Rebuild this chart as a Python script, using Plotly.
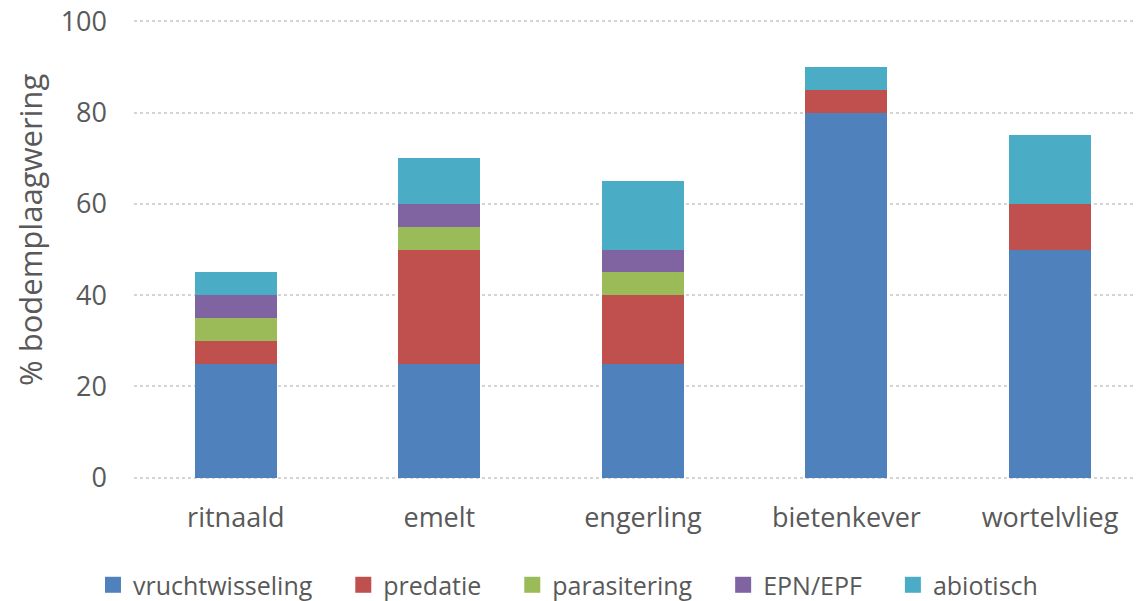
import plotly.graph_objects as go

categories = ["ritnaald", "emelt", "engerling", "bietenkever", "wortelvlieg"]
series_names = ["vruchtwisseling", "predatie", "parasitering", "EPN/EPF", "abiotisch"]
vruchtwisseling = [25, 25, 25, 80, 50]
predatie = [5, 25, 15, 5, 10]
parasitering = [5, 5, 5, 0, 0]
epn_epf = [5, 5, 5, 0, 0]
abiotisch = [5, 10, 15, 5, 15]
y_ticks = [0, 20, 40, 60, 80, 100]
y_title = "% bodemplaagwering"

colors = ["#4F81BD", "#C0504D", "#9BBB59", "#8064A2", "#4BACC6"]
values = [vruchtwisseling, predatie, parasitering, epn_epf, abiotisch]

FONT = "Open Sans"
GREY = "#595959"
PAD = "\u00a0\u00a0\u00a0\u00a0"

fig = go.Figure()
for name, vals, col in zip(series_names, values, colors):
    fig.add_trace(go.Bar(
        x=categories, y=vals, name=name, showlegend=False,
        marker=dict(color=col, line=dict(width=0)),
        width=0.403,
    ))
# legend entries (square swatches)
for name, col in zip(series_names, colors):
    fig.add_trace(go.Scatter(
        x=[None], y=[None], name=name + PAD, mode="markers",
        marker=dict(symbol="square", size=16, color=col),
    ))

fig.add_annotation(
    text=y_title, textangle=-90, xref="paper", yref="paper",
    x=0, y=0.5425, xanchor="center", yanchor="middle", xshift=-104,
    showarrow=False, font=dict(family=FONT, size=31, color=GREY),
)

fig.update_layout(
    barmode="stack",
    width=1143, height=601,
    margin=dict(l=126, r=0, t=12, b=130),
    paper_bgcolor="white", plot_bgcolor="white",
    font=dict(family=FONT, size=24, color=GREY),
    legend=dict(orientation="h", x=0.4395, xanchor="center", y=-0.231, yanchor="middle",
                font=dict(family=FONT, size=25, color=GREY), traceorder="normal",
                itemwidth=30),
    xaxis=dict(range=[-0.5, 4.496], showgrid=False, showline=False, ticks="",
               automargin=False,
               tickfont=dict(family=FONT, size=27, color=GREY), ticklabelstandoff=20),
    yaxis=dict(range=[-0.3, 100.3], tickvals=y_ticks, showgrid=True, gridcolor="#D4D4D4",
               gridwidth=1.5, griddash="dot", zeroline=False, showline=False,
               automargin=False, ticklabeloverflow="allow",
               tickfont=dict(family=FONT, size=27, color=GREY), ticklabelstandoff=26),
)

fig.write_html("out.html")
